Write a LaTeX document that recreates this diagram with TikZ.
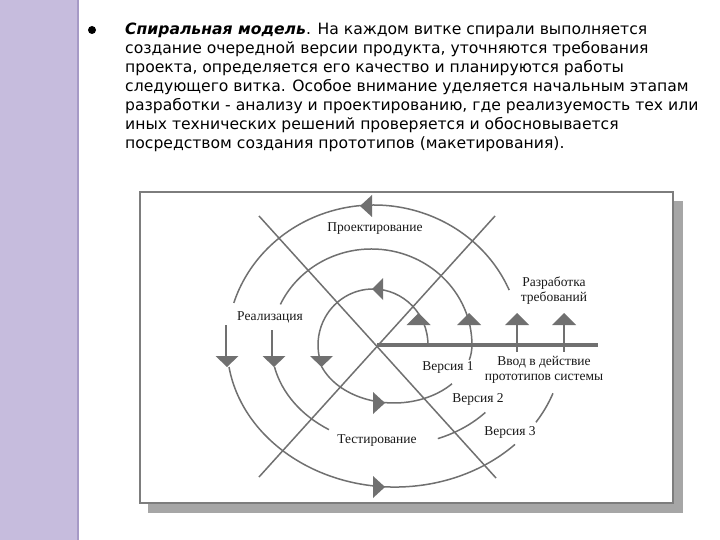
\documentclass[tikz,border=0pt]{standalone}
\usepackage{fontspec}
\usepackage{tikz}
\newfontfamily\bodyfont{DejaVu Sans}
\newfontfamily\labelfont{Liberation Serif}
\definecolor{stripcolor}{RGB}{198,188,221}
\definecolor{stripedge}{RGB}{166,154,198}
\definecolor{linegray}{RGB}{112,112,112}
\definecolor{shadowgray}{RGB}{166,166,166}
\definecolor{framegray}{RGB}{125,125,125}

\begin{document}
\begin{tikzpicture}[x=1pt, y=1pt,
body_style/.style={anchor=base west, inner sep=0pt, font=\bodyfont\fontsize{15.6}{19}\selectfont},
label_style/.style={inner sep=0pt, align=center, text=black!90, font=\labelfont\fontsize{13.5}{15}\selectfont},
spiral_style/.style={draw=linegray, line width=1.5pt},
head_style/.style={fill=linegray},
axis_style/.style={draw=linegray, line width=4pt}]

\useasboundingbox (0,0) rectangle (720,-540);

% strip on the left
\fill[stripcolor] (0,0) rectangle (77,-540);
\fill[stripedge] (77,0) rectangle (79,-540);

% text
\fill (92,-30) circle (4);
\node[body_style] (line1) at (125,-35) {\textbf{\textit{Спиральная модель}}. На каждом витке спирали выполняется};
\node[body_style] (line2) at (125,-54) {создание очередной версии продукта, уточняются требования};
\node[body_style] (line3) at (125,-73) {проекта, определяется его качество и планируются работы};
\node[body_style] (line4) at (125,-92) {следующего витка. Особое внимание уделяется начальным этапам};
\node[body_style] (line5) at (125,-111) {разработки - анализу и проектированию, где реализуемость тех или};
\node[body_style] (line6) at (125,-130) {иных технических решений проверяется и обосновывается};
\node[body_style] (line7) at (125,-149) {посредством создания прототипов (макетирования).};

% frame
\fill[shadowgray] (148,-201) rectangle (683,-513);
\draw[framegray, line width=2pt, fill=white] (140,-192) rectangle (673,-503);

% cross and axis
\coordinate (centre) at (377,-345);
\coordinate (axisend) at (598,-345);
\draw[spiral_style] (259,-216) -- (496,-478);
\draw[spiral_style] (495,-216) -- (259,-477);
\draw[axis_style] (centre) -- (axisend);

% spiral
\draw[spiral_style] (428,-345) arc[start angle=0, end angle=192, x radius=55, y radius=56];
\draw[spiral_style] (321.7,-366.7) arc[start angle=202, end angle=318, x radius=78, y radius=58];
\draw[spiral_style] (469.3,-360) arc[start angle=345, end angle=360, x radius=78, y radius=58]
  arc[start angle=0, end angle=155, x radius=100.5, y radius=96];
\draw[spiral_style] (272,-330) -- (272,-356);
\draw[spiral_style] (274.5,-367) arc[start angle=192.7, end angle=237.8, x radius=123, y radius=100];
\draw[spiral_style] (437.8,-438.6) arc[start angle=290.6, end angle=317.6, x radius=123, y radius=100];
\draw[spiral_style] (517,-325) -- (517,-352);
\draw[spiral_style] (509.2,-290.1) arc[start angle=23.1, end angle=162.5, x radius=147, y radius=140];
\draw[spiral_style] (226,-325) -- (226,-356);
\draw[spiral_style] (229,-367) arc[start angle=188.9, end angle=315.6, x radius=168, y radius=142];
\draw[spiral_style] (535.9,-422.3) arc[start angle=327, end angle=340.1, x radius=168, y radius=142];
\draw[spiral_style] (564,-325) -- (564,-352);

% arrow heads
\fill[head_style] (215.5,-356) -- (238.5,-356) -- (227,-367) -- cycle;
\fill[head_style] (262.5,-356) -- (285.5,-356) -- (274,-367) -- cycle;
\fill[head_style] (310,-356) -- (333,-356) -- (321.5,-367) -- cycle;
\fill[head_style] (406.5,-325) -- (430.5,-325) -- (418.5,-313) -- cycle;
\fill[head_style] (457,-325) -- (481,-325) -- (469,-313) -- cycle;
\fill[head_style] (505,-325) -- (529,-325) -- (517,-313) -- cycle;
\fill[head_style] (552,-325) -- (576,-325) -- (564,-313) -- cycle;
\fill[head_style] (383,-278) -- (383,-300) -- (372,-289) -- cycle;
\fill[head_style] (372,-195) -- (372,-217) -- (360,-206) -- cycle;
\fill[head_style] (373,-392) -- (373,-414) -- (385,-403) -- cycle;
\fill[head_style] (373,-476) -- (373,-498) -- (385,-487) -- cycle;

% labels
\node[label_style] (design) at (375,-229) {Проектирование};
\node[label_style] (reqs) at (554,-291) {Разработка\\требований};
\node[label_style] (impl) at (270,-317) {Реализация};
\node[label_style] (ver1) at (448,-367) {Версия 1};
\node[label_style] (deploy) at (544,-370) {Ввод в действие\\прототипов системы};
\node[label_style] (ver2) at (478,-399) {Версия 2};
\node[label_style] (ver3) at (510,-432) {Версия 3};
\node[label_style] (test) at (377,-441) {Тестирование};

\end{tikzpicture}
\end{document}
